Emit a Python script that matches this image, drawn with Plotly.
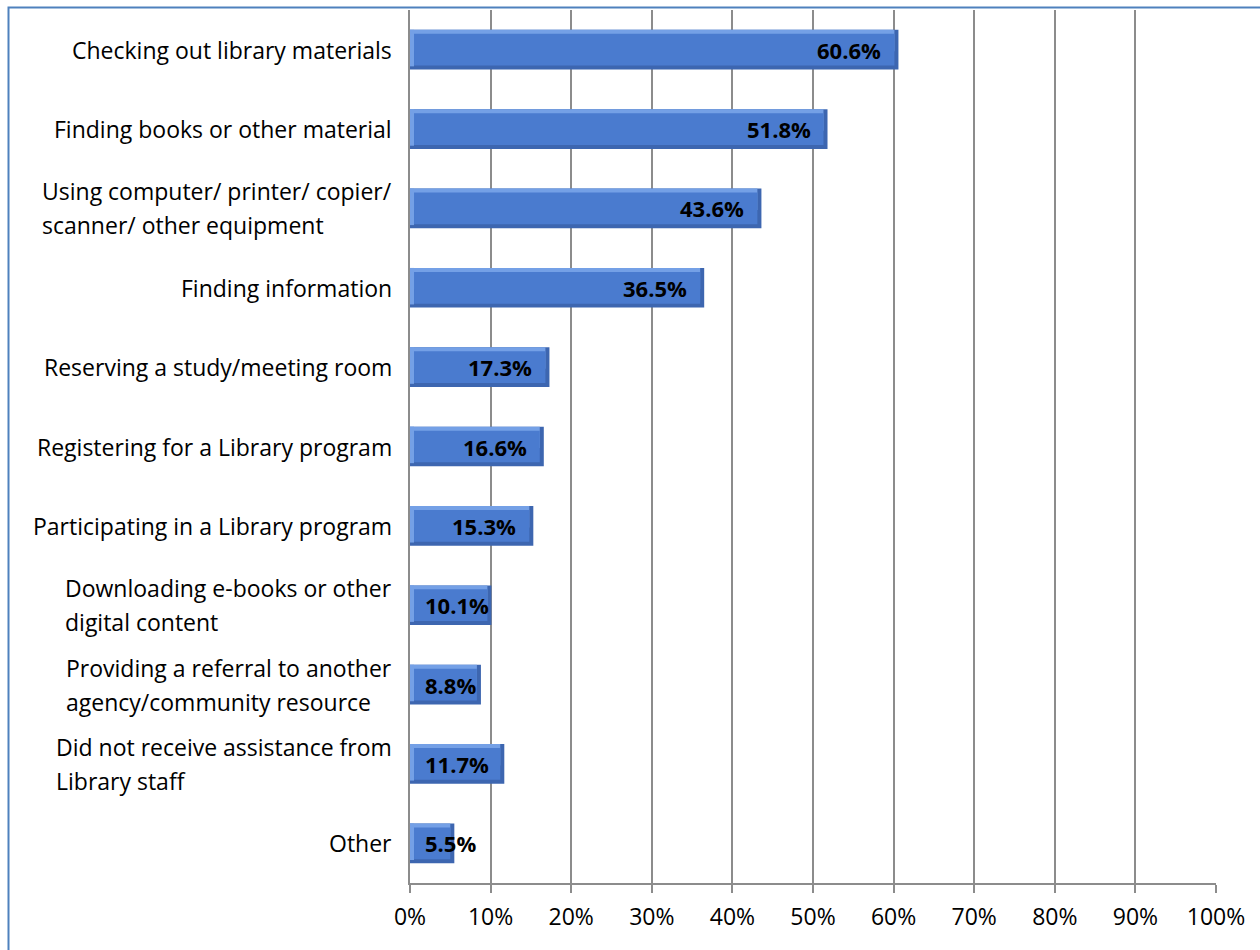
import plotly.graph_objects as go

# Survey responses: kind of help received from library staff (top to bottom)
label_lines = [
    ["Checking out library materials"],
    ["Finding books or other material"],
    ["Using computer/ printer/ copier/", "scanner/ other equipment"],
    ["Finding information"],
    ["Reserving a study/meeting room"],
    ["Registering for a Library program"],
    ["Participating in a Library program"],
    ["Downloading e-books or other", "digital content"],
    ["Providing a referral to another", "agency/community resource"],
    ["Did not receive assistance from", "Library staff"],
    ["Other"],
]
percentages = [60.6, 51.8, 43.6, 36.5, 17.3, 16.6, 15.3, 10.1, 8.8, 11.7, 5.5]
tick_values = [0, 10, 20, 30, 40, 50, 60, 70, 80, 90, 100]
tick_text = [f"{v}%" for v in tick_values]

categories = [" ".join(lines) for lines in label_lines]

FONT = "Open Sans, sans-serif"
GRID = "#8c8c8c"
BEVEL_DARK = "#3D66B0"
BEVEL_LIGHT = "#74A0E6"
FACE = "#4A7BCF"
BEVEL_PCT = 0.5  # width of the bevel edge, in axis percent

fig = go.Figure()

# Bevelled bars: dark body, light upper and left edges, then the flat face
fig.add_trace(go.Bar(
    y=categories, x=percentages, orientation="h",
    marker=dict(color=BEVEL_DARK, line=dict(width=0)),
    width=0.5, offset=-0.25, hoverinfo="skip", showlegend=False,
))
fig.add_trace(go.Bar(
    y=categories, x=[v - BEVEL_PCT for v in percentages], orientation="h",
    marker=dict(color=BEVEL_LIGHT, line=dict(width=0)),
    width=0.27, offset=-0.25, hoverinfo="skip", showlegend=False,
))
fig.add_trace(go.Bar(
    y=categories, x=[BEVEL_PCT] * len(percentages), orientation="h",
    marker=dict(color=BEVEL_LIGHT, line=dict(width=0)),
    width=0.46, offset=-0.25, hoverinfo="skip", showlegend=False,
))
fig.add_trace(go.Bar(
    y=categories, x=[v - 2 * BEVEL_PCT for v in percentages],
    base=BEVEL_PCT, orientation="h",
    marker=dict(color=FACE, line=dict(width=0)),
    width=0.4, offset=-0.2, hoverinfo="skip", showlegend=False,
))

annotations = []

# Category labels: right-aligned block, lines left-aligned within the block.
# The annotation font size sets the line pitch; the span sets the glyph size.
for cat, lines in zip(categories, label_lines):
    text = "<br>".join(f"<span style='font-size:23px'>{ln}</span>" for ln in lines)
    annotations.append(dict(
        xref="paper", x=0, xanchor="right", xshift=-16,
        yref="y", y=cat, yanchor="middle",
        text=text, showarrow=False, align="left",
        font=dict(family=FONT, size=26, color="#000000"),
    ))

# Value labels at the inner end of each bar; short bars keep a minimum inset
for cat, v in zip(categories, percentages):
    if v >= 14:
        pos = dict(x=v, xanchor="right", xshift=-15)
    else:
        pos = dict(x=0, xanchor="left", xshift=13)
    annotations.append(dict(
        xref="x", yref="y", y=cat, yanchor="middle",
        text=f"<b>{v:.1f}%</b>", showarrow=False,
        font=dict(family=FONT, size=22, color="#000000"),
        **pos,
    ))

# Chart frame
shapes = [dict(
    type="rect", xref="paper", yref="paper",
    x0=(8.5 - 410) / 806, x1=(1270 - 410) / 806,
    y0=(883 - 960) / 873, y1=1 + (10 - 7.5) / 873,
    line=dict(color="#4F81BD", width=2), fillcolor="rgba(0,0,0,0)", layer="below",
)]

fig.update_layout(
    width=1260, height=950,
    margin=dict(l=410, r=44, t=10, b=67),
    paper_bgcolor="white", plot_bgcolor="white",
    barmode="overlay",
    annotations=annotations,
    shapes=shapes,
    xaxis=dict(
        range=[0, 100], tickvals=tick_values, ticktext=tick_text,
        showgrid=True, gridcolor=GRID, gridwidth=1.5,
        showline=True, linecolor=GRID, linewidth=1.5,
        ticks="outside", ticklen=8, tickcolor=GRID, tickwidth=1.5,
        tickfont=dict(family=FONT, size=23, color="#000000"),
        ticklabelstandoff=5,
        zeroline=False, fixedrange=True,
    ),
    yaxis=dict(
        categoryorder="array", categoryarray=categories,
        autorange="reversed", showticklabels=False,
        showline=True, linecolor=GRID, linewidth=1.5,
        showgrid=False, ticks="", fixedrange=True,
    ),
)

fig.write_html("out.html")
